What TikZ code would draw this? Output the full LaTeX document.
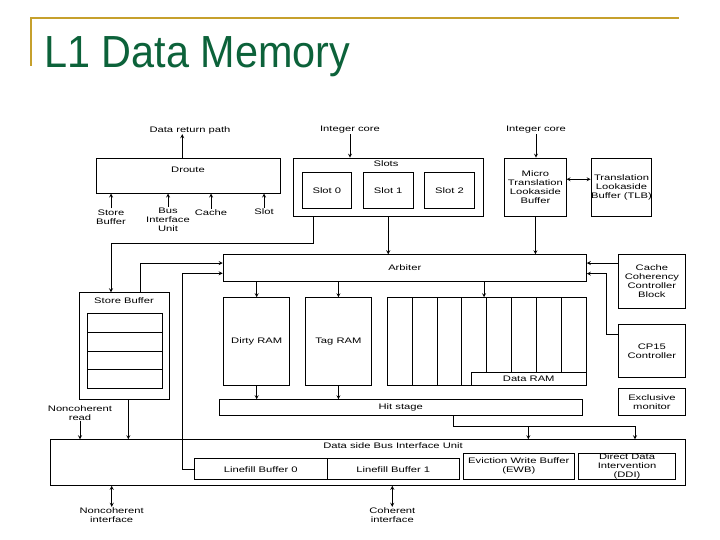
\documentclass[tikz,border=0pt]{standalone}
\usepackage{fontspec}
\usepackage{tikz}
\newfontfamily\diafont[FakeStretch=1.4]{Liberation Sans}
\newfontfamily\titlefont[FakeStretch=0.92]{Liberation Sans}
\definecolor{titlegreen}{RGB}{12,98,58}
\definecolor{slidegold}{RGB}{198,160,44}

\begin{document}
\begin{tikzpicture}[
    x=1pt, y=-1pt,              % pixel grid of the slide, y runs down
    ->,
    >=stealth,
    line width=0.8pt,
    blk/.style={draw, rectangle, anchor=north west, inner sep=0pt, align=center,
                font=\diafont\fontsize{8}{9}\selectfont},
    lbl/.style={inner sep=0pt, align=center, font=\diafont\fontsize{8}{9}\selectfont},
    sz/.style 2 args={minimum width=#1, minimum height=#2},
]

\path[use as bounding box, fill=white] (0,0) rectangle (720,540);

% -------------------------------------------------
% Slide title
% -------------------------------------------------
\draw[-, slidegold, line width=2.6pt] (31,66) -- (31,18) -- (679,18);
\node[anchor=base west, inner sep=0pt, text=titlegreen,
      font=\titlefont\fontsize{45}{50}\selectfont] (title) at (44,68) {L1 Data Memory};

% -------------------------------------------------
% Top row: Droute, slots, micro TLB, TLB
% -------------------------------------------------
\node[blk, sz={184.3}{35}] (droute) at (95.7,157.7) {};
\node[lbl] (droutelab) at (188,170) {Droute};
\node[lbl] (retpath)   at (190,130) {Data return path};
\node[lbl] (sbin)      at (111,217) {Store\\Buffer};
\node[lbl] (biuin)     at (168,220) {Bus\\Interface\\Unit};
\node[lbl] (cachein)   at (211,213) {Cache};
\node[lbl] (slotin)    at (264,212) {Slot};

\node[lbl] (intcoreA) at (350,130) {Integer core};
\node[blk, sz={190.3}{58.3}] (slots) at (292.7,157.7) {};
\node[lbl] (slotslab) at (386,164) {Slots};
\foreach \i/\x in {0/301.7, 1/363, 2/424.3}
    \node[blk, sz={49.5}{36.6}] (slot\i) at (\x,171.7) {Slot \i};

\node[lbl] (intcoreB) at (536,130) {Integer core};
\node[blk, sz={61.4}{58.3}] (mtlb) at (504.3,157.7) {Micro\\Translation\\Lookaside\\Buffer};
\node[blk, sz={60.3}{58.3}] (tlb)  at (590.7,157.7) {Translation\\Lookaside\\Buffer (TLB)};

% -------------------------------------------------
% Middle: arbiter, RAMs, side blocks
% -------------------------------------------------
\node[blk, sz={363.3}{26.7}] (arbiter) at (222.7,254.3) {Arbiter};
\node[blk, sz={67}{54}]   (ccc)   at (618,254)   {Cache\\Coherency\\Controller\\Block};
\node[blk, sz={67}{53}]   (cp15)  at (618,324.3) {CP15\\Controller};
\node[blk, sz={67}{26.7}] (exmon) at (618,388.3) {Exclusive\\monitor};

\node[blk, sz={90.3}{107}] (sbuf) at (79,292.3) {};
\node[lbl] (sbuflab) at (124,300.7) {Store Buffer};
\foreach \r in {0,...,3}
    \node[blk, sz={75}{18.7}] (sbrow\r) at (86.7,313.3+18.7*\r) {};

\node[blk, sz={66}{88}]    (dirty) at (223.3,297.3) {Dirty RAM};
\node[blk, sz={66}{88}]    (tag)   at (305,297.3)   {Tag RAM};
\node[blk, sz={198.7}{88}] (dram)  at (387.3,297.3) {};
\node[blk, sz={115.3}{13}] (dramlab) at (470.7,372.3) {Data RAM};
% RAM ways
\foreach \k in {1,2,3}
    \draw[-] ([xshift=24.84*\k]dram.north west) -- ++(0,88);
\foreach \k in {4,...,7}
    \draw[-] ([xshift=24.84*\k]dram.north west) -- ++(0,75);

\node[blk, sz={362.7}{16}] (hit) at (219,399.3) {Hit stage};

% -------------------------------------------------
% Bottom: data side bus interface unit
% -------------------------------------------------
\node[blk, sz={635}{45.7}] (biu) at (50,439.3) {};
\node[lbl] (biulab) at (393,445.7) {Data side Bus Interface Unit};
\node[blk, sz={132.7}{21}]   (lfb0) at (194,458.3)   {Linefill Buffer 0};
\node[blk, sz={132.3}{21}]   (lfb1) at (326.7,458.3) {Linefill Buffer 1};
\node[blk, sz={111.3}{26.6}] (ewb)  at (462.7,452.7) {Eviction Write Buffer\\(EWB)};
\node[blk, sz={96.7}{26.6}]  (ddi)  at (578.3,452.7) {Direct Data\\Intervention\\(DDI)};

\node[lbl] (ncread) at (80,413.3)    {Noncoherent\\read};
\node[lbl] (ncif)   at (111.7,514.7) {Noncoherent\\interface};
\node[lbl] (cohif)  at (392.3,514.7) {Coherent\\interface};

% -------------------------------------------------
% Connections
% -------------------------------------------------
\coordinate (drout)  at ([xshift=-6pt]droute.north);
\coordinate (tlbin)  at ([yshift=8pt]tlb.west);
\coordinate (arbinA) at ([yshift=5pt]arbiter.west);
\coordinate (arbinB) at ([yshift=-5.3pt]arbiter.west);
\coordinate (arbinC) at ([yshift=5pt]arbiter.east);
\coordinate (arbinD) at ([yshift=-5.6pt]arbiter.east);
\coordinate (dramin) at ([xshift=-3pt]dram.north);
\coordinate (hitout) at ([xshift=234.3pt]hit.south west);
\coordinate (ewbin)  at ([xshift=478.3pt]biu.north west);
\coordinate (ddiin)  at ([xshift=585pt]biu.north west);
\coordinate (sbout)  at ([xshift=49.3pt]sbuf.south west);

\path
(drout) edge (drout |- retpath.south)
(sbin.north)    edge[shorten <=1pt] (sbin.north |- droute.south)
(biuin.north)   edge[shorten <=1pt] (biuin.north |- droute.south)
(cachein.north) edge[shorten <=1pt] (cachein.north |- droute.south)
(slotin.north)  edge[shorten <=1pt] (slotin.north |- droute.south)

(intcoreA.south) edge (intcoreA.south |- slots.north)
(intcoreB.south) edge (intcoreB.south |- mtlb.north)
(tlbin -| mtlb.east) edge[<->] (tlbin)

(slots.south) edge (slots.south |- arbiter.north)
(mtlb.south)  edge (mtlb.south |- arbiter.north)
(arbinC -| ccc.west) edge (arbinC)

(arbiter.south -| dirty.north) edge (dirty.north)
(arbiter.south -| tag.north)   edge (tag.north)
(dramin |- arbiter.south)      edge (dramin)
(dirty.south) edge (dirty.south |- hit.north)
(tag.south)   edge (tag.south |- hit.north)

(sbout) edge (sbout |- biu.north)
(ncread.south) edge (ncread.south |- biu.north)
(biu.south -| ncif.north)  edge[<->] (ncif.north)
(biu.south -| cohif.north) edge[<->] (cohif.north);

\draw ([xshift=20.6pt]slots.south west) -- ++(0,26.7) -| ([xshift=32pt]sbuf.north west);
\draw ([xshift=61pt]sbuf.north west) |- (arbinA);
\draw (lfb0.west) -- ++(-12,0) |- (arbinB);
\draw ([yshift=16.5pt]cp15.west) -- ++(-12,0) |- (arbinD);
\draw (hitout) -- ++(0,10.7) -| (ewbin);
\draw (hitout) -- ++(0,10.7) -| (ddiin);

\end{tikzpicture}
\end{document}
